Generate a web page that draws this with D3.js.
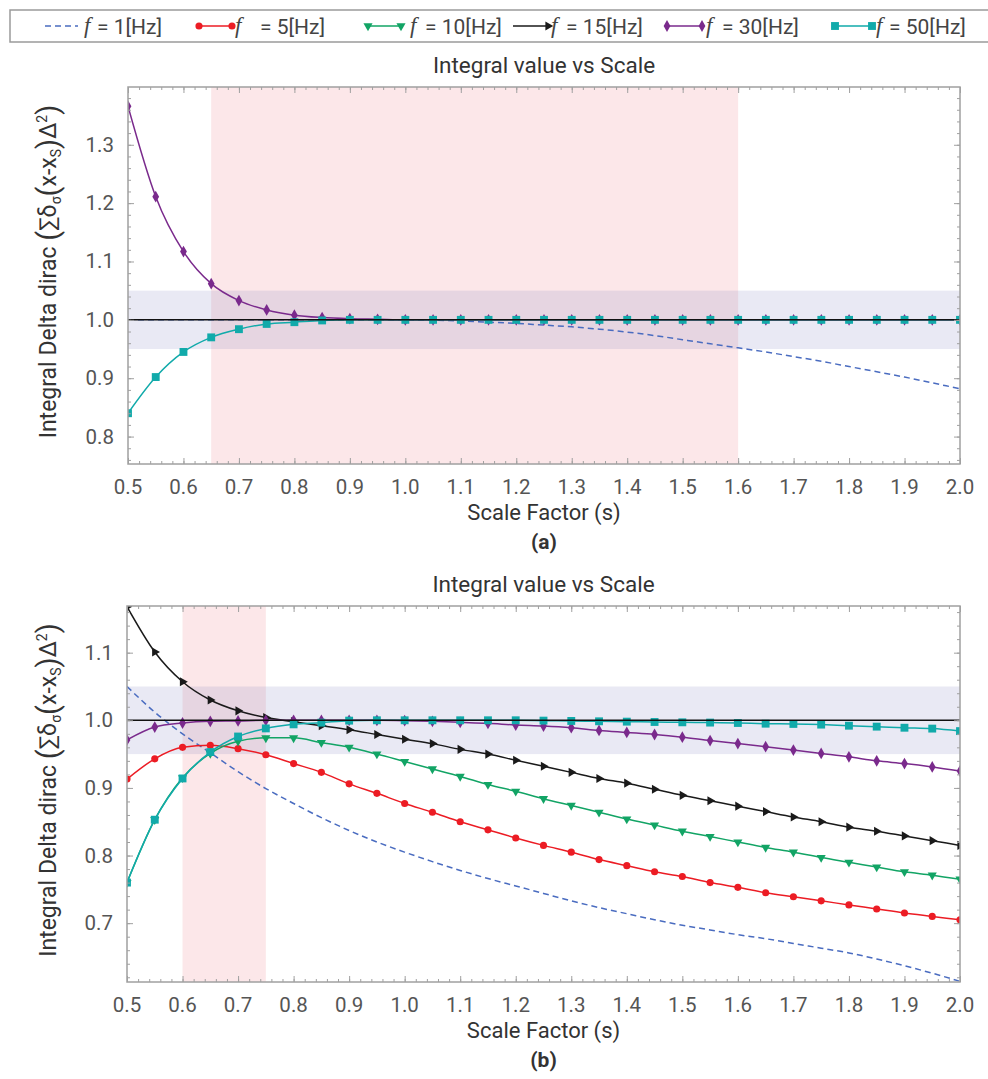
<!DOCTYPE html>
<html><head><meta charset="utf-8">
<script src="https://cdn.jsdelivr.net/npm/d3@7"></script>
<style>
body{margin:0;background:#fff;}
svg{display:block;font-family:Roboto,"Noto Sans",sans-serif;}
</style></head>
<body><svg id="chart" width="988" height="1079"></svg>
<script>
// ---------- data ----------
const scaleFactors = [0.5,0.55,0.6,0.65,0.7,0.75,0.8,0.85,0.9,0.95,1.0,1.05,1.1,1.15,1.2,1.25,1.3,1.35,1.4,1.45,1.5,1.55,1.6,1.65,1.7,1.75,1.8,1.85,1.9,1.95,2.0];
const xTickLabels = [0.5,0.6,0.7,0.8,0.9,1.0,1.1,1.2,1.3,1.4,1.5,1.6,1.7,1.8,1.9,2.0];
const yTickLabelsA = [0.8,0.9,1.0,1.1,1.2,1.3];
const yTickLabelsB = [0.7,0.8,0.9,1.0,1.1];
const legendLabels = ["1","5","10","15","30","50"];

// panel (a)
const f1A  = [1,1,1,1,1,1,1,1,1,1,1,0.9995,0.998,0.996,0.994,0.991,0.988,0.984,0.979,0.973,0.966,0.959,0.952,0.945,0.937,0.929,0.920,0.911,0.902,0.892,0.882];
const f30A = [1.366,1.211,1.117,1.062,1.033,1.017,1.008,1.004,1.002,1.001,1,1,1,1,1,1,1,1,1,1,1,1,1,1,1,1,1,1,1,1,1];
const f50A = [0.840,0.902,0.945,0.970,0.984,0.993,0.996,0.999,1,1,1,1,1,1,1,1,1,1,1,1,1,1,1,1,1,1,1,1,1,1,1];

// panel (b)
const f1B  = [1.050,1.012,0.980,0.952,0.924,0.899,0.877,0.856,0.837,0.820,0.805,0.791,0.778,0.766,0.755,0.744,0.733,0.723,0.714,0.705,0.697,0.690,0.683,0.677,0.670,0.663,0.656,0.647,0.637,0.626,0.614];
const f5B  = [0.913,0.943,0.960,0.963,0.958,0.949,0.936,0.923,0.906,0.892,0.877,0.864,0.850,0.838,0.826,0.815,0.805,0.794,0.785,0.776,0.769,0.760,0.753,0.745,0.739,0.733,0.727,0.721,0.715,0.710,0.705];
const f10B = [0.760,0.853,0.915,0.951,0.969,0.974,0.974,0.967,0.960,0.950,0.939,0.928,0.917,0.905,0.895,0.884,0.874,0.864,0.854,0.845,0.836,0.828,0.820,0.812,0.805,0.797,0.790,0.783,0.776,0.771,0.765];
const f15B = [1.168,1.101,1.057,1.030,1.014,1.004,0.998,0.992,0.986,0.979,0.972,0.9655,0.957,0.950,0.941,0.932,0.923,0.914,0.907,0.898,0.889,0.881,0.873,0.865,0.857,0.850,0.842,0.836,0.829,0.822,0.815];
const f30B = [0.971,0.990,0.996,0.9985,0.999,1,1,1,1,1,0.9995,0.9985,0.997,0.9955,0.993,0.9915,0.989,0.985,0.982,0.979,0.975,0.970,0.9655,0.961,0.956,0.951,0.946,0.940,0.936,0.931,0.925];
const f50B = [0.760,0.853,0.914,0.953,0.976,0.988,0.994,0.9965,0.9995,1,1,1,1,1,1,0.9995,0.999,0.9985,0.998,0.9975,0.997,0.9966,0.996,0.995,0.9946,0.9936,0.992,0.9906,0.989,0.9877,0.984];

const pinkA = [0.65,1.6], pinkB = [0.6,0.75], toleranceBand = [0.95,1.05], refValue = 1.0;

// ---------- styles ----------
const styles = {
  "1":  {color:"#4a6cc0", dash:"6,4", marker:null},
  "5":  {color:"#ec1c24", marker:"circle"},
  "10": {color:"#12a465", marker:"down"},
  "15": {color:"#1a1a1a", marker:"right"},
  "30": {color:"#7a2a8c", marker:"diamond"},
  "50": {color:"#11aaaa", marker:"square"}
};
function markerPath(kind){
  switch(kind){
    case "circle": return d3.symbol(d3.symbolCircle,40)();
    case "square": return d3.symbol(d3.symbolSquare,62)();
    case "diamond": return d3.symbol(d3.symbolDiamond,40)();
    case "down": return d3.symbol(d3.symbolTriangle,36)();
    case "right": return d3.symbol(d3.symbolTriangle,36)();
  }
}
function markerRot(kind){ return kind==="down"?180:(kind==="right"?90:0); }

const svg = d3.select("#chart");

// ---------- legend ----------
const lg = svg.append("g");
lg.append("rect").attr("x",10).attr("y",10).attr("width",990).attr("height",32)
  .attr("fill","#fff").attr("stroke","#9a9a9a").attr("stroke-width",1.5);
const legendPos = [
  {x0:45,x1:78,fx:84,tx:97},
  {x0:199,x1:232,fx:235,tx:260},
  {x0:368,x1:401,fx:410,tx:425},
  {x0:513,x1:548,fx:551,tx:566},
  {x0:667,x1:702,fx:706,tx:722},
  {x0:835,x1:872,fx:876,tx:889}
];
legendLabels.forEach((lab,i)=>{
  const st = styles[lab], p = legendPos[i], y = 26;
  lg.append("line").attr("x1",p.x0).attr("x2",p.x1).attr("y1",y).attr("y2",y)
    .attr("stroke",st.color).attr("stroke-width",1.5).attr("stroke-dasharray",st.dash||null);
  if(st.marker){
    [p.x0,p.x1].forEach(mx=>{
      if(st.marker==="right" && mx===p.x0) return;
      lg.append("path").attr("d",markerPath(st.marker))
        .attr("transform",`translate(${mx},${y}) rotate(${markerRot(st.marker)})`)
        .attr("fill",st.color);
    });
  }
  lg.append("text").attr("x",p.fx).attr("y",y+7).attr("font-family","'Liberation Serif',serif")
    .attr("font-style","italic").attr("font-size",23).attr("fill","#444").text("f");
  lg.append("text").attr("x",p.tx).attr("y",y+7.5).attr("font-size",21).attr("fill","#444")
    .text("= "+lab+"[Hz]");
});

// ---------- panels ----------
function drawPanel(cfg){
  const g = svg.append("g");
  const x = d3.scaleLinear().domain([0.5,2.0]).range([cfg.left,cfg.right]);
  const y = d3.scaleLinear().domain(cfg.yDomain).range([cfg.bottom,cfg.top]);
  const clipId = "clip"+cfg.id;
  svg.append("clipPath").attr("id",clipId).append("rect")
    .attr("x",cfg.left).attr("y",cfg.top).attr("width",cfg.right-cfg.left).attr("height",cfg.bottom-cfg.top);
  const plot = g.append("g").attr("clip-path",`url(#${clipId})`);

  // bands
  plot.append("rect").attr("x",x(cfg.pink[0])).attr("width",x(cfg.pink[1])-x(cfg.pink[0]))
    .attr("y",cfg.top).attr("height",cfg.bottom-cfg.top).attr("fill","#f5a8b0").attr("fill-opacity",0.28);
  plot.append("rect").attr("x",cfg.left).attr("width",cfg.right-cfg.left)
    .attr("y",y(toleranceBand[1])).attr("height",y(toleranceBand[0])-y(toleranceBand[1]))
    .attr("fill","#7b7fc0").attr("fill-opacity",0.17);

  // series
  cfg.series.forEach(([lab,vals])=>{
    const st = styles[lab];
    const pts = scaleFactors.map((s,i)=>[s,vals[i]]);
    plot.append("path").datum(pts)
      .attr("d",d3.line().x(d=>x(d[0])).y(d=>y(d[1])).curve(d3.curveMonotoneX))
      .attr("fill","none").attr("stroke",st.color).attr("stroke-width",1.5)
      .attr("stroke-dasharray",st.dash||null);
    if(st.marker){
      plot.selectAll(null).data(pts).enter().append("path")
        .attr("d",markerPath(st.marker))
        .attr("transform",d=>`translate(${x(d[0])},${y(d[1])}) rotate(${markerRot(st.marker)})`)
        .attr("fill",st.color);
    }
  });
  // reference line
  plot.append("line").attr("x1",cfg.left).attr("x2",cfg.right)
    .attr("y1",y(refValue)).attr("y2",y(refValue)).attr("stroke","#111").attr("stroke-width",1.5);

  // axes with inner ticks on all sides
  const axCol = "#a0a0a0";
  const xMinor = d3.range(0,76).map(i=>0.5+i*0.02);
  const yMinor = d3.range(Math.ceil(cfg.yDomain[0]/0.02),Math.floor(cfg.yDomain[1]/0.02)+1).map(i=>i*0.02);
  function addAxis(axis, tr){
    const a = g.append("g").attr("transform",tr).call(axis);
    a.select(".domain").remove();
    a.selectAll("line").attr("stroke",axCol).attr("stroke-width",1);
    a.selectAll("text").remove();
  }
  addAxis(d3.axisBottom(x).tickValues(xMinor).tickSize(-3),`translate(0,${cfg.bottom})`);
  addAxis(d3.axisBottom(x).tickValues(xTickLabels).tickSize(-6),`translate(0,${cfg.bottom})`);
  addAxis(d3.axisTop(x).tickValues(xMinor).tickSize(-3),`translate(0,${cfg.top})`);
  addAxis(d3.axisTop(x).tickValues(xTickLabels).tickSize(-6),`translate(0,${cfg.top})`);
  addAxis(d3.axisLeft(y).tickValues(yMinor).tickSize(-3),`translate(${cfg.left},0)`);
  addAxis(d3.axisLeft(y).tickValues(cfg.yTicks).tickSize(-6),`translate(${cfg.left},0)`);
  addAxis(d3.axisRight(y).tickValues(yMinor).tickSize(-3),`translate(${cfg.right},0)`);
  addAxis(d3.axisRight(y).tickValues(cfg.yTicks).tickSize(-6),`translate(${cfg.right},0)`);
  g.append("rect").attr("x",cfg.left).attr("y",cfg.top).attr("width",cfg.right-cfg.left)
    .attr("height",cfg.bottom-cfg.top).attr("fill","none").attr("stroke",axCol).attr("stroke-width",1.5);

  // tick labels
  g.selectAll(null).data(xTickLabels).enter().append("text")
    .attr("x",d=>x(d)).attr("y",cfg.bottom+30).attr("text-anchor","middle")
    .attr("font-size",20.5).attr("fill","#555").text(d=>d.toFixed(1));
  g.selectAll(null).data(cfg.yTicks).enter().append("text")
    .attr("x",cfg.left-14).attr("y",d=>y(d)+7).attr("text-anchor","end")
    .attr("font-size",20.5).attr("fill","#555").text(d=>d.toFixed(1));

  // titles
  const cx = (cfg.left+cfg.right)/2;
  g.append("text").attr("x",cx).attr("y",cfg.top-14).attr("text-anchor","middle")
    .attr("font-size",22.5).attr("fill","#333").text("Integral value vs Scale");
  g.append("text").attr("x",cx).attr("y",cfg.bottom+56).attr("text-anchor","middle")
    .attr("font-size",22).attr("fill","#333").text("Scale Factor (s)");
  g.append("text").attr("x",cx).attr("y",cfg.bottom+85).attr("text-anchor","middle")
    .attr("font-size",21).attr("font-weight","bold").attr("fill","#333").text(cfg.tag);

  // y label
  const yl = g.append("text").attr("transform",`translate(56,${(cfg.top+cfg.bottom)/2 - 4}) rotate(-90)`)
    .attr("text-anchor","middle").attr("font-size",23).attr("fill","#333");
  yl.append("tspan").text("Integral Delta dirac ");
  yl.append("tspan").attr("font-size",29).attr("dy",2).text("(");
  yl.append("tspan").attr("dy",-2).text("∑δ");
  yl.append("tspan").attr("font-size",14).attr("dy",5).text("σ");
  yl.append("tspan").attr("font-size",29).attr("dy",-3).text("(");
  yl.append("tspan").attr("dy",-2).text("x-x");
  yl.append("tspan").attr("font-size",14).attr("dy",5).text("S");
  yl.append("tspan").attr("font-size",29).attr("dy",-3).text(")");
  yl.append("tspan").attr("dy",-2).text("Δ");
  yl.append("tspan").attr("font-size",14).attr("dy",-9).text("2");
  yl.append("tspan").attr("font-size",29).attr("dy",11).text(")");
}

drawPanel({id:"a", left:128, right:960, top:87, bottom:464, yDomain:[0.753,1.399], yTicks:yTickLabelsA,
  pink:pinkA, tag:"(a)", series:[["1",f1A],["30",f30A],["50",f50A]]});
drawPanel({id:"b", left:127, right:960, top:606, bottom:982, yDomain:[0.613,1.169], yTicks:yTickLabelsB,
  pink:pinkB, tag:"(b)", series:[["1",f1B],["5",f5B],["10",f10B],["15",f15B],["30",f30B],["50",f50B]]});
</script>
</body></html>
